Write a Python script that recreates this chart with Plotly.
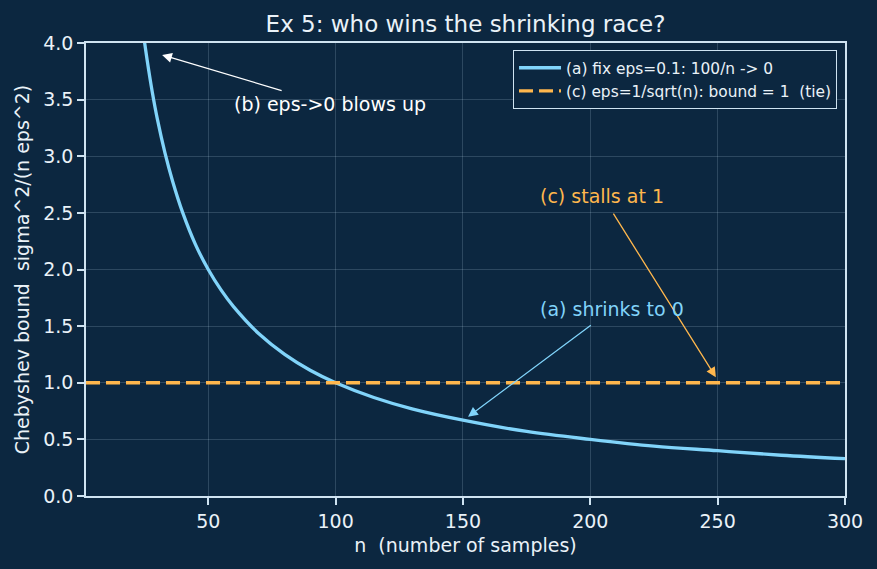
import plotly.graph_objects as go

# ---- data ----
n_a = [24, 26, 28, 30, 33, 36, 40, 45, 50, 55, 60, 70, 80, 90, 100,
       115, 130, 150, 175, 200, 225, 250, 275, 300]
bound_a = [4.17, 3.85, 3.57, 3.33, 3.03, 2.78, 2.50, 2.22, 2.00, 1.82, 1.67,
           1.43, 1.25, 1.11, 1.00, 0.87, 0.77, 0.67, 0.57, 0.50, 0.44, 0.40,
           0.36, 0.33]
n_c = [2, 300]
bound_c = [1.0, 1.0]

x_ticks = [50, 100, 150, 200, 250, 300]
y_ticks = [0.0, 0.5, 1.0, 1.5, 2.0, 2.5, 3.0, 3.5, 4.0]
y_ticklabels = ["0.0", "0.5", "1.0", "1.5", "2.0", "2.5", "3.0", "3.5", "4.0"]

name_a = "(a) fix eps=0.1: 100/n -> 0"
name_c = "(c) eps=1/sqrt(n): bound = 1\u00a0 (tie)"

BG = "#0c2740"
FG = "#eaf2f8"
SPINE = "#cfe3f1"
BLUE = "#81d4fa"
ORANGE = "#ffb74d"
GRID = "rgba(200,225,245,0.18)"
FONT = "DejaVu Sans"

fig = go.Figure()
fig.add_trace(go.Scatter(x=n_a, y=bound_a, mode="lines", name=name_a,
                         line=dict(color=BLUE, width=3.3, shape="spline")))
fig.add_trace(go.Scatter(x=n_c, y=bound_c, mode="lines", name=name_c,
                         line=dict(color=ORANGE, width=3.3, dash="14px,6px")))

axis_common = dict(
    showline=True, linecolor=SPINE, linewidth=1.6, mirror=True,
    ticks="outside", ticklen=7, tickwidth=1.6, tickcolor=SPINE,
    showgrid=True, gridcolor=GRID, gridwidth=1, zeroline=False,
    tickfont=dict(family=FONT, size=19, color=FG),
)

fig.update_xaxes(range=[2, 300], tickvals=x_ticks,
                 title=dict(text="n\u00a0 (number of samples)",
                            font=dict(family=FONT, size=19, color=FG), standoff=8),
                 **axis_common)
fig.update_yaxes(range=[0, 4], tickvals=y_ticks, ticktext=y_ticklabels,
                 title=dict(text="Chebyshev bound\u00a0 sigma^2/(n eps^2)",
                            font=dict(family=FONT, size=19, color=FG), standoff=9),
                 **axis_common)

arrow_style = dict(xref="x", yref="y", axref="x", ayref="y", text="",
                   showarrow=True, arrowhead=2, arrowsize=1.5, arrowwidth=1.3)
annotations = [
    # arrows (empty text, tail at ax/ay, head at x/y)
    dict(x=31.9, y=3.894, ax=79.4, ay=3.576, arrowcolor="#ffffff", **arrow_style),
    dict(x=249.3, y=1.049, ax=208.7, ay=2.506, arrowcolor=ORANGE, **arrow_style),
    dict(x=152.0, y=0.70, ax=200.8, ay=1.517, arrowcolor=BLUE, **arrow_style),
    # texts
    dict(x=59.2, y=3.46, xref="x", yref="y", text="(b) eps->0 blows up", showarrow=False,
         xanchor="left", yanchor="middle", font=dict(family=FONT, size=19, color="#ffffff")),
    dict(x=179.6, y=2.645, xref="x", yref="y", text="(c) stalls at 1", showarrow=False,
         xanchor="left", yanchor="middle", font=dict(family=FONT, size=19, color=ORANGE)),
    dict(x=179.6, y=1.651, xref="x", yref="y", text="(a) shrinks to 0", showarrow=False,
         xanchor="left", yanchor="middle", font=dict(family=FONT, size=19, color=BLUE)),
]

fig.update_layout(
    width=877, height=569,
    margin=dict(l=86, r=32, t=43, b=73),
    paper_bgcolor=BG, plot_bgcolor=BG,
    font=dict(family=FONT, color=FG),
    title=dict(text="Ex 5: who wins the shrinking race?", x=0.5, xref="paper",
               xanchor="center", y=1 - 24 / 569, yref="container", yanchor="middle",
               font=dict(family=FONT, size=23, color=FG)),
    legend=dict(x=0.9895, y=0.984, xanchor="right", yanchor="top",
                bgcolor=BG, bordercolor=SPINE, borderwidth=1, itemwidth=42,
                font=dict(family=FONT, size=15.4, color=FG)),
    annotations=annotations,
    showlegend=True,
)

fig.write_html("out.html")
